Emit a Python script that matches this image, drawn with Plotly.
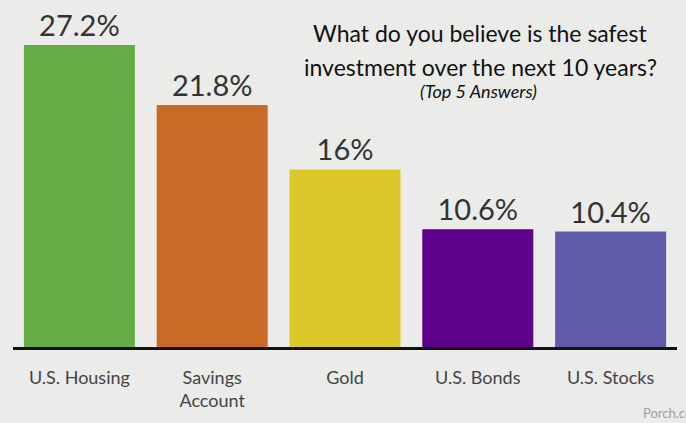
import plotly.graph_objects as go

categories = ["U.S. Housing", "Savings<br>Account", "Gold", "U.S. Bonds", "U.S. Stocks"]
values = [27.2, 21.8, 16, 10.6, 10.4]
value_labels = ["27.2%", "21.8%", "16%", "10.6%", "10.4%"]
colors = ["#66ad47", "#c96b24", "#dbc82b", "#5f008a", "#605caa"]
title_lines = ["What do you believe is the safest", "investment over the next 10 years?"]
subtitle = "(Top 5 Answers)"

FONT = "Lato, 'Open Sans', sans-serif"

fig = go.Figure(
    go.Bar(
        x=list(range(len(categories))),
        y=values,
        text=value_labels,
        textposition="outside",
        cliponaxis=False,
        textfont=dict(family=FONT, size=29, color="#333333"),
        marker=dict(color=colors, line=dict(width=0)),
        width=0.836,
    )
)

fig.update_layout(
    width=686,
    height=423,
    margin=dict(l=13, r=9, t=20, b=76),
    paper_bgcolor="#ebebe9",
    plot_bgcolor="rgba(0,0,0,0)",
    showlegend=False,
    font=dict(family=FONT),
)

fig.update_xaxes(
    tickmode="array",
    tickvals=list(range(len(categories))),
    ticktext=categories,
    range=[-0.5, 4.5],
    showline=True,
    linecolor="#111111",
    linewidth=3,
    ticks="",
    ticklabelstandoff=12,
    tickfont=dict(family=FONT, size=18, color="#444444"),
    showgrid=False,
    zeroline=False,
)
fig.update_yaxes(range=[0, 29.46], visible=False, showgrid=False)


def paper_y(py):
    # convert a pixel row into paper coordinates of the plot area
    return 1 + (20 - py) / 327


def paper_x(px):
    return (px - 13) / 664


for line, py in zip(title_lines, [33, 67]):
    fig.add_annotation(
        xref="paper", yref="paper", x=paper_x(480), y=paper_y(py),
        xanchor="center", yanchor="middle", showarrow=False,
        text=line,
        font=dict(family=FONT, size=23, color="#111111"),
    )
fig.add_annotation(
    xref="paper", yref="paper", x=paper_x(479), y=paper_y(91),
    xanchor="center", yanchor="middle", showarrow=False,
    text=f"<i>{subtitle}</i>",
    font=dict(family=FONT, size=18, color="#111111"),
)
fig.add_annotation(
    xref="paper", yref="paper", x=paper_x(641), y=paper_y(413),
    xanchor="left", yanchor="middle", showarrow=False,
    text="Porch.com",
    font=dict(family=FONT, size=13, color="#a0a0a0"),
)

fig.write_html("out.html")
